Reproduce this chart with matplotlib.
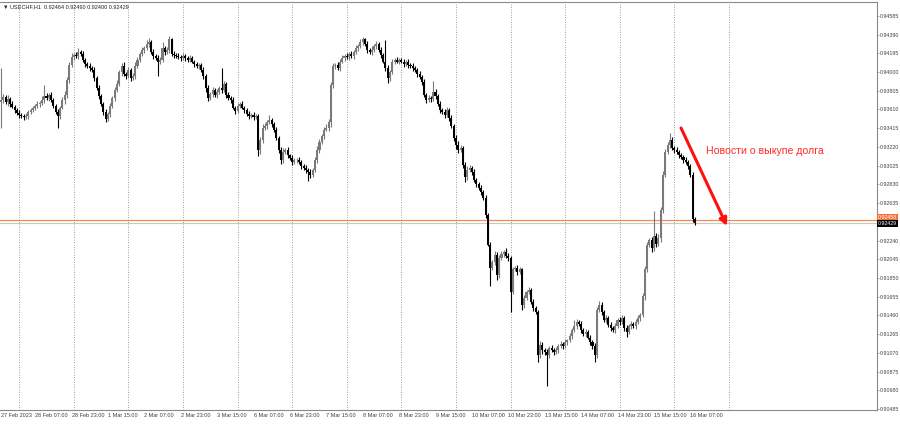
import matplotlib
matplotlib.use('Agg')
import matplotlib.pyplot as plt
import numpy as np
import pandas as pd

plt.rcParams['font.family'] = ['Liberation Sans', 'DejaVu Sans']

symbol = 'USDCHF,H1'
first_open = 0.9369

# hourly closes, 27 Feb 16:00 .. 16 Mar 09:00
close = [
    0.9371, 0.9374, 0.9369, 0.9372, 0.9367, 0.9364, 0.9360, 0.9357, 0.9355, 0.9354,
    0.9353, 0.9354, 0.9358, 0.9360, 0.9363, 0.9365, 0.9367, 0.9368, 0.9371, 0.9375,
    0.9373, 0.9376, 0.9371, 0.9365, 0.9358, 0.9354, 0.9363, 0.9371, 0.9376, 0.9392,
    0.9407, 0.9416, 0.9418, 0.9417, 0.9421, 0.9419, 0.9413, 0.9408, 0.9406, 0.9404,
    0.9402, 0.9394, 0.9383, 0.9375, 0.9367, 0.9358, 0.9351, 0.9356, 0.9365, 0.9373,
    0.9381, 0.9388, 0.9400, 0.9406, 0.9398, 0.9396, 0.9402, 0.9394, 0.9396, 0.9406,
    0.9413, 0.9419, 0.9423, 0.9425, 0.9429, 0.9431, 0.9421, 0.9417, 0.9415, 0.9411,
    0.9413, 0.9425, 0.9421, 0.9423, 0.9434, 0.9419, 0.9418, 0.9417, 0.9416, 0.9415,
    0.9417, 0.9415, 0.9413, 0.9415, 0.9411, 0.9408, 0.9406, 0.9407, 0.9402, 0.9396,
    0.9383, 0.9373, 0.9377, 0.9381, 0.9376, 0.9379, 0.9383, 0.9381, 0.9388, 0.9376,
    0.9373, 0.9371, 0.9363, 0.9359, 0.9365, 0.9367, 0.9363, 0.9360, 0.9356, 0.9354,
    0.9355, 0.9353, 0.9354, 0.9319, 0.9329, 0.9342, 0.9344, 0.9348, 0.9350, 0.9346,
    0.9340, 0.9331, 0.9319, 0.9308, 0.9317, 0.9319, 0.9313, 0.9310, 0.9306, 0.9308,
    0.9308, 0.9306, 0.9302, 0.9300, 0.9298, 0.9296, 0.9293, 0.9298, 0.9308, 0.9319,
    0.9327, 0.9333, 0.9340, 0.9342, 0.9348, 0.9387, 0.9406, 0.9407, 0.9404, 0.9411,
    0.9415, 0.9417, 0.9416, 0.9419, 0.9417, 0.9421, 0.9425, 0.9427, 0.9431, 0.9434,
    0.9429, 0.9423, 0.9421, 0.9423, 0.9427, 0.9429, 0.9423, 0.9418, 0.9411, 0.9404,
    0.9394, 0.9400, 0.9411, 0.9413, 0.9411, 0.9413, 0.9411, 0.9408, 0.9411, 0.9407,
    0.9406, 0.9404, 0.9402, 0.9398, 0.9395, 0.9390, 0.9376, 0.9371, 0.9373, 0.9372,
    0.9379, 0.9375, 0.9367, 0.9360, 0.9358, 0.9355, 0.9360, 0.9352, 0.9344, 0.9331,
    0.9324, 0.9319, 0.9321, 0.9303, 0.9290, 0.9298, 0.9300, 0.9296, 0.9287, 0.9283,
    0.9279, 0.9275, 0.9269, 0.9251, 0.9220, 0.9196, 0.9202, 0.9209, 0.9188, 0.9206,
    0.9210, 0.9212, 0.9208, 0.9206, 0.9171, 0.9194, 0.9196, 0.9191, 0.9194, 0.9157,
    0.9164, 0.9171, 0.9173, 0.9160, 0.9154, 0.9150, 0.9105, 0.9115, 0.9110, 0.9108,
    0.9105, 0.9112, 0.9110, 0.9108, 0.9110, 0.9114, 0.9116, 0.9114, 0.9118, 0.9120,
    0.9125, 0.9131, 0.9135, 0.9139, 0.9137, 0.9131, 0.9127, 0.9129, 0.9123, 0.9118,
    0.9114, 0.9105, 0.9152, 0.9157, 0.9150, 0.9141, 0.9143, 0.9136, 0.9133, 0.9131,
    0.9135, 0.9141, 0.9139, 0.9143, 0.9133, 0.9129, 0.9135, 0.9137, 0.9135, 0.9139,
    0.9143, 0.9147, 0.9166, 0.9194, 0.9220, 0.9225, 0.9216, 0.9229, 0.9221, 0.9227,
    0.9256, 0.9293, 0.9317, 0.9324, 0.9329, 0.9321, 0.9319, 0.9317, 0.9313, 0.9311,
    0.9308, 0.9306, 0.9302, 0.9293, 0.92464, 0.92429,
]

# wick lengths above / below the body, in pips
upper_wick = [
    33, 3, 2, 4, 2, 3, 2, 2, 3, 2,
    2, 3, 2, 3, 2, 2, 3, 2, 4, 12,
    3, 2, 3, 2, 2, 3, 2, 3, 4, 3,
    3, 4, 2, 3, 4, 2, 3, 2, 2, 3,
    2, 3, 2, 3, 2, 2, 3, 2, 3, 2,
    3, 4, 2, 3, 4, 2, 3, 2, 3, 4,
    3, 2, 3, 2, 4, 5, 2, 3, 2, 3,
    3, 6, 2, 3, 4, 2, 3, 2, 3, 2,
    3, 2, 2, 3, 2, 2, 3, 2, 2, 3,
    2, 3, 2, 3, 2, 3, 2, 21, 3, 2,
    3, 2, 3, 2, 3, 2, 3, 2, 2, 3,
    2, 3, 2, 2, 3, 4, 3, 2, 5, 2,
    2, 3, 2, 3, 4, 2, 3, 2, 3, 2,
    2, 3, 2, 2, 3, 2, 3, 2, 3, 4,
    3, 2, 3, 4, 3, 3, 3, 2, 3, 3,
    3, 2, 3, 2, 3, 2, 3, 2, 4, 3,
    2, 3, 2, 4, 2, 3, 2, 3, 2, 22,
    3, 2, 3, 2, 3, 2, 2, 3, 2, 3,
    2, 3, 2, 2, 3, 2, 3, 2, 3, 2,
    12, 3, 2, 3, 2, 3, 4, 2, 3, 2,
    3, 4, 3, 2, 3, 4, 3, 2, 3, 2,
    2, 3, 2, 3, 2, 3, 2, 4, 3, 3,
    3, 2, 4, 3, 2, 3, 2, 3, 3, 2,
    3, 2, 3, 2, 3, 2, 2, 4, 3, 2,
    3, 2, 3, 2, 3, 2, 3, 2, 3, 2,
    3, 2, 6, 3, 2, 3, 2, 3, 2, 3,
    2, 3, 3, 4, 3, 2, 3, 2, 3, 2,
    3, 2, 3, 4, 2, 3, 2, 3, 2, 3,
    3, 2, 3, 4, 3, 2, 3, 26, 3, 4,
    3, 4, 3, 3, 7, 3, 2, 3, 2, 3,
    2, 3, 2, 2, 3, 2.6,
]
lower_wick = [
    27, 3, 2, 4, 3, 2, 3, 2, 3, 2,
    3, 2, 3, 2, 2, 3, 2, 3, 2, 3,
    2, 3, 2, 3, 2, 12, 3, 2, 4, 3,
    3, 2, 3, 2, 3, 2, 2, 3, 2, 3,
    2, 3, 2, 3, 2, 3, 3, 2, 3, 2,
    3, 2, 3, 4, 2, 3, 2, 3, 2, 3,
    2, 3, 2, 3, 2, 3, 2, 3, 2, 15,
    3, 2, 3, 2, 3, 2, 3, 2, 2, 3,
    2, 3, 2, 3, 2, 3, 2, 3, 2, 3,
    4, 3, 2, 3, 2, 3, 2, 3, 2, 3,
    2, 3, 2, 3, 2, 3, 2, 3, 2, 3,
    2, 3, 2, 7, 4, 3, 2, 3, 2, 3,
    3, 2, 3, 4, 3, 2, 3, 2, 3, 2,
    3, 2, 3, 2, 3, 10, 4, 3, 2, 3,
    3, 2, 3, 2, 4, 5, 4, 3, 2, 3,
    2, 3, 2, 3, 2, 3, 2, 3, 2, 3,
    2, 3, 2, 3, 2, 3, 2, 3, 2, 3,
    5, 3, 2, 3, 2, 3, 2, 3, 2, 3,
    2, 3, 2, 3, 2, 3, 2, 3, 2, 3,
    2, 3, 2, 3, 2, 3, 2, 3, 2, 3,
    4, 3, 2, 3, 5, 3, 2, 3, 2, 3,
    2, 3, 2, 3, 2, 19, 3, 3, 5, 3,
    2, 3, 2, 3, 21, 3, 2, 3, 2, 5,
    3, 2, 3, 2, 3, 2, 8, 3, 4, 3,
    33, 3, 2, 3, 2, 3, 2, 3, 2, 3,
    2, 3, 2, 3, 2, 3, 2, 3, 2, 3,
    3, 8, 3, 2, 3, 2, 3, 2, 3, 2,
    3, 2, 3, 2, 3, 5, 2, 3, 2, 3,
    2, 3, 3, 4, 3, 3, 4, 3, 4, 3,
    4, 3, 3, 2, 3, 2, 3, 2, 3, 2,
    3, 2, 3, 2, 3, 2.9,
]

price_ticks = [0.94585, 0.94390, 0.94195, 0.94000, 0.93805, 0.93610, 0.93415,
               0.93220, 0.93025, 0.92830, 0.92635, 0.92240, 0.92045, 0.91850,
               0.91655, 0.91460, 0.91265, 0.91070, 0.90875, 0.90680, 0.90485]
level_price = 0.92457
note_text = 'Новости о выкупе долга'
arrow_from = (298.9, 0.93417)
arrow_to = (319.1, 0.92394)
note_pos = (309.9, 0.93177)

# --- bars ---
close = np.array(close)
n = len(close)
x = np.arange(n)
open_ = np.concatenate([[first_open], close[:-1]])
high = np.maximum(open_, close) + np.array(upper_wick) * 1e-4
low = np.minimum(open_, close) - np.array(lower_wick) * 1e-4
colors = np.where(close < open_, '#000000', '#7a7a7a')

# trading-hour time axis (weekdays only)
hours = pd.date_range('2023-02-27 16:00', '2023-03-17 00:00', freq='h')
hours = hours[hours.dayofweek < 5]
times = hours[:n]

fig = plt.figure(figsize=(9, 4.24), dpi=100)
ax = fig.add_axes([0, 14 / 424, 877 / 900, 408 / 424])

# day separators
for i, t in enumerate(hours):
    if t.hour == 0:
        ax.axvline(i, color='#7a7a7a', lw=0.6, ls=(0, (1, 2)), zorder=0)

ax.vlines(x, low, high, colors=colors, linewidth=0.8, zorder=2)
ax.bar(x, np.maximum(np.abs(close - open_), 0.00003), bottom=np.minimum(open_, close),
       width=0.9, color=colors, linewidth=0, zorder=3)

ax.set_xlim(-0.44, 385.06)
ax.set_ylim(0.90474, 0.94731)

# price lines
ax.axhline(level_price, color='#f58a4a', lw=0.9, zorder=1)
ax.axhline(close[-1], color='#c8c8c8', lw=0.8, zorder=1)

# axes look
ax.spines['left'].set_visible(False)
for s in ('top', 'right', 'bottom'):
    ax.spines[s].set_color('#8a8a8a')
    ax.spines[s].set_linewidth(0.8)

ax.yaxis.tick_right()
ax.set_yticks(price_ticks)
ax.set_yticklabels([f'{p:.5f}' for p in price_ticks])
ax.tick_params(axis='y', labelsize=3.8, length=1.5, width=0.5, color='#808080',
               labelcolor='#404040', pad=0.6)

label_idx = [0] + list(range(15, n, 16))
labels = ['27 Feb 2023'] + [f'{times[i].day} {times[i]:%b %H:%M}' for i in label_idx[1:]]
ax.set_xticks(label_idx)
ax.set_xticklabels(labels)
ax.tick_params(axis='x', labelsize=4, length=0, labelcolor='#404040', pad=2.5)
for lbl in ax.get_xticklabels():
    lbl.set_ha('left')

# price tags on the scale
ax.annotate('0.92458', xy=(1, level_price), xycoords=('axes fraction', 'data'),
            xytext=(0.8, 1.5), textcoords='offset points', va='center', ha='left',
            fontsize=3.8, color='white', annotation_clip=False,
            bbox=dict(boxstyle='square,pad=0.2', fc='#f5713a', ec='none'))
ax.annotate(f'{close[-1]:.5f}', xy=(1, close[-1]), xycoords=('axes fraction', 'data'),
            xytext=(0.8, -0.5), textcoords='offset points', va='center', ha='left',
            fontsize=3.8, color='white', annotation_clip=False,
            bbox=dict(boxstyle='square,pad=0.2', fc='black', ec='none'))

# annotation
ax.annotate('', xy=arrow_to, xytext=arrow_from,
            arrowprops=dict(arrowstyle='-|>', color='#ff1010', lw=2.2,
                            mutation_scale=11, shrinkA=0, shrinkB=0))
ax.text(*note_pos, note_text, color='#ff2a2a', fontsize=7.6, va='center', ha='left')

fig.text(3 / 900, 1 - 7 / 424,
         f'▼ {symbol}  {open_[-1]:.5f} {high[-1]:.5f} {low[-1]:.5f} {close[-1]:.5f}',
         fontsize=4, va='center', ha='left', color='#202020')

fig.savefig('out.png', dpi=100)
